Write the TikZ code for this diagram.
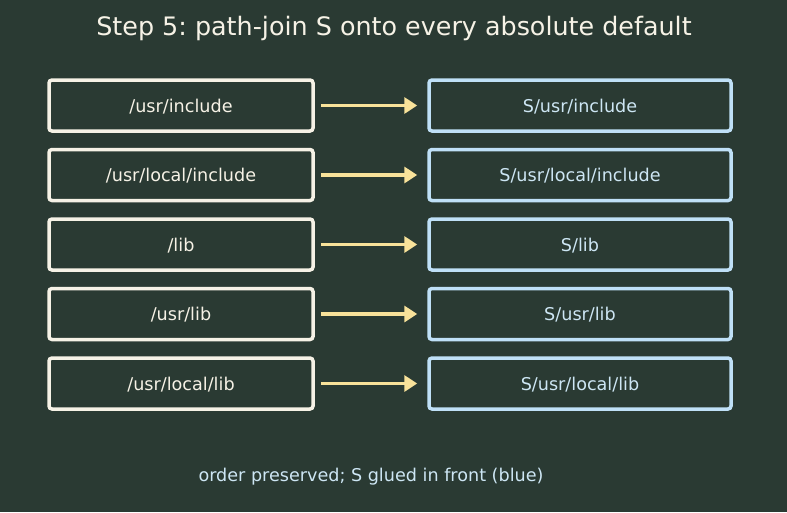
\documentclass[tikz,border=0pt]{standalone}
\usepackage{fontspec}
\setmainfont{DejaVu Sans}
\usetikzlibrary{arrows.meta}
\definecolor{bg}{HTML}{2A3A33}
\definecolor{cream}{HTML}{F6F2E6}
\definecolor{lblue}{HTML}{BFE0F7}
\definecolor{tblue}{HTML}{CDE6F4}
\definecolor{ayel}{HTML}{F8E29A}
\begin{document}
\frenchspacing
\begin{tikzpicture}[x=1pt,y=-1pt,
  srcbox/.style={draw=cream,line width=3.5pt,rounded corners=3pt,minimum width=264pt,minimum height=51pt,inner sep=0pt,text depth=0pt,text=cream,font=\fontsize{17.6}{20}\selectfont},
  dstbox/.style={draw=lblue,line width=3.5pt,rounded corners=3pt,minimum width=302pt,minimum height=51pt,inner sep=0pt,text depth=0pt,text=tblue,font=\fontsize{17.6}{20}\selectfont},
  conn/.style={draw=ayel,line width=3.5pt,-{Triangle[length=13pt,width=16pt]}}]
\fill[bg] (0,0) rectangle (787,512);
\useasboundingbox (0,0) rectangle (787,512);
\node[text=cream,font=\fontsize{25.4}{30}\selectfont] (title) at (394,28) {Step 5: path-join S onto every absolute default};
\node[srcbox] (s1) at (181,105.5) {/usr/include};
\node[srcbox] (s2) at (181,175) {/usr/local/include};
\node[srcbox] (s3) at (181,244.5) {/lib};
\node[srcbox] (s4) at (181,314) {/usr/lib};
\node[srcbox] (s5) at (181,383.5) {/usr/local/lib};
\node[dstbox] (d1) at (580,105.5) {S/usr/include};
\node[dstbox] (d2) at (580,175) {S/usr/local/include};
\node[dstbox] (d3) at (580,244.5) {S/lib};
\node[dstbox] (d4) at (580,314) {S/usr/lib};
\node[dstbox] (d5) at (580,383.5) {S/usr/local/lib};
\foreach \i in {1,...,5}{
  \draw[conn] ([xshift=6pt]s\i.east) -- ([xshift=-10pt]d\i.west);
}
\node[text=tblue,font=\fontsize{17.6}{20}\selectfont] (foot) at (371,477) {order preserved; S glued in front (blue)};
\end{tikzpicture}
\end{document}
